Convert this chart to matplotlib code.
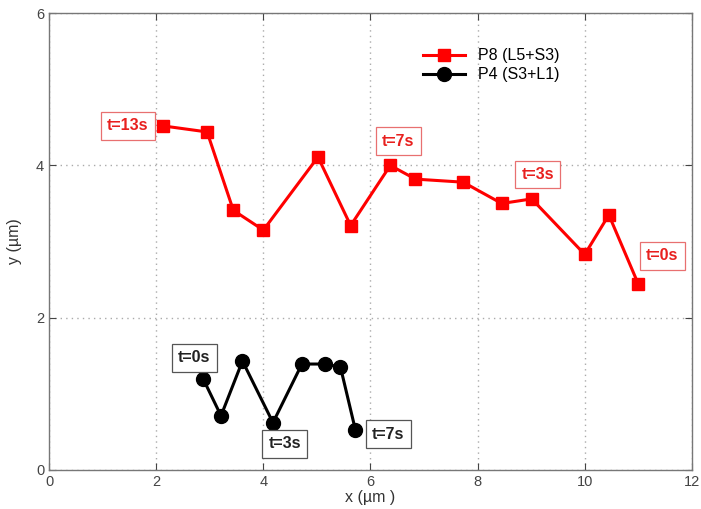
import matplotlib
matplotlib.use("Agg")
import matplotlib.pyplot as plt

plt.rcParams['font.family'] = ['Liberation Sans', 'DejaVu Sans']

# P8 (L5+S3) trajectory
p8_x = [2.12, 2.95, 3.44, 4.00, 5.02, 5.63, 6.37, 6.84, 7.73, 8.45, 9.01, 10.00, 10.45, 11.00]
p8_y = [4.52, 4.44, 3.41, 3.15, 4.11, 3.21, 4.00, 3.82, 3.78, 3.50, 3.56, 2.83, 3.35, 2.44]

# P4 (S3+L1) trajectory
p4_x = [2.88, 3.21, 3.61, 4.18, 4.72, 5.16, 5.44, 5.72]
p4_y = [1.19, 0.71, 1.43, 0.62, 1.39, 1.39, 1.35, 0.52]

# time annotations (label, x, y)
p8_labels = ["t=13s", "t=7s", "t=3s", "t=0s"]
p8_label_x = [1.47, 6.52, 9.12, 11.45]
p8_label_y = [4.52, 4.32, 3.88, 2.81]

p4_labels = ["t=0s", "t=3s", "t=7s"]
p4_label_x = [2.71, 4.40, 6.33]
p4_label_y = [1.47, 0.34, 0.47]

fig = plt.figure(figsize=(7.01, 5.09), dpi=100)
ax = fig.add_axes([0.070, 0.077, 0.917, 0.897])

ax.plot(p8_x, p8_y, color='#ff0000', lw=2.2, marker='s', ms=9, label='P8 (L5+S3)')
ax.plot(p4_x, p4_y, color='black', lw=2.2, marker='o', ms=10, label='P4 (S3+L1)')

for t, x, y in zip(p8_labels, p8_label_x, p8_label_y):
    ax.text(x, y, t, color='#e8201e', fontsize=11.5, fontweight='bold', ha='center', va='center',
            bbox=dict(boxstyle='square,pad=0.4', fc='white', ec='#e87070', lw=0.9))
for t, x, y in zip(p4_labels, p4_label_x, p4_label_y):
    ax.text(x, y, t, color='#222222', fontsize=11.5, fontweight='bold', ha='center', va='center',
            bbox=dict(boxstyle='square,pad=0.4', fc='white', ec='#555555', lw=0.9))

ax.set_xlim(0, 12)
ax.set_ylim(0, 6)
ax.set_xticks([0, 2, 4, 6, 8, 10, 12])
ax.set_yticks([0, 2, 4, 6])
ax.grid(True, color='#aaaaaa', linestyle=(0, (1, 3)), linewidth=1.0)
ax.tick_params(direction='in', top=True, right=True, length=5, labelsize=10.5, colors='#444444')
for s in ax.spines.values():
    s.set_color('#777777')
    s.set_linewidth(1.0)

ax.set_xlabel('x (µm )', fontsize=11.5, color='#333333', labelpad=1)
ax.set_ylabel('y (µm)', fontsize=11.5, color='#333333', labelpad=10)

ax.legend(loc='upper left', bbox_to_anchor=(0.56, 0.955), frameon=False, fontsize=11.5,
          handlelength=2.6, labelspacing=0.25, handletextpad=0.8)

fig.savefig('out.png', dpi=100)
